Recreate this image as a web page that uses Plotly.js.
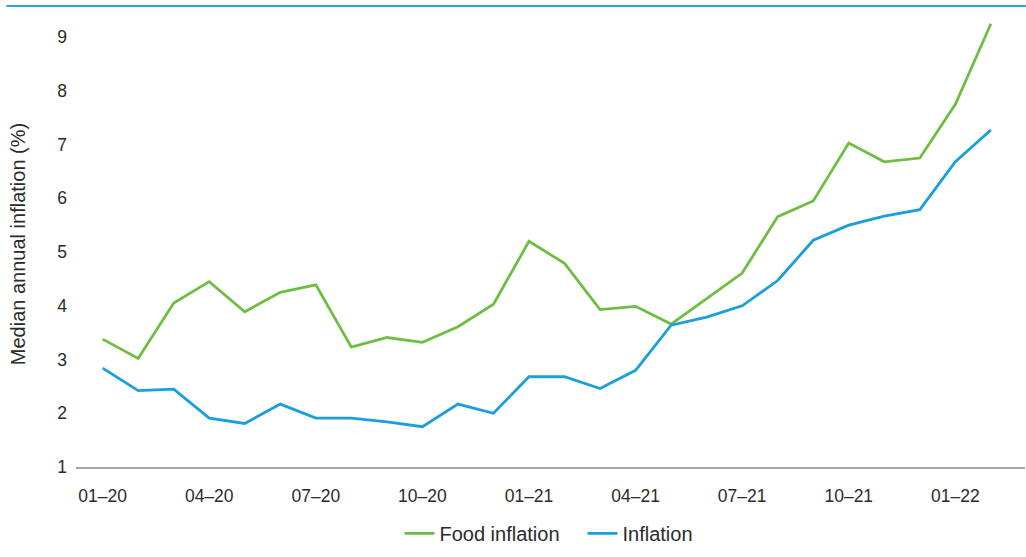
<!DOCTYPE html>
<html>
<head>
<meta charset="utf-8">
<script src="https://cdn.plot.ly/plotly-3.0.1.min.js"></script>
<style>
  html, body { margin: 0; padding: 0; background: #fff; }
  #chart { width: 1026px; height: 557px; }
</style>
</head>
<body>
<div id="chart"></div>
<script>
// Monthly periods, Jan 2020 to Feb 2022
const months = [
  "01–20", "02–20", "03–20", "04–20", "05–20", "06–20", "07–20", "08–20", "09–20",
  "10–20", "11–20", "12–20", "01–21", "02–21", "03–21", "04–21", "05–21", "06–21",
  "07–21", "08–21", "09–21", "10–21", "11–21", "12–21", "01–22", "02–22"
];

// Median annual food inflation (%)
const foodInflation = [
  3.38, 3.02, 4.05, 4.45, 3.89, 4.25, 4.39, 3.23, 3.41,
  3.32, 3.61, 4.03, 5.20, 4.79, 3.93, 3.99, 3.66, 4.14,
  4.61, 5.66, 5.95, 7.03, 6.68, 6.75, 7.75, 9.25
];

// Median annual headline inflation (%)
const inflation = [
  2.84, 2.42, 2.45, 1.91, 1.81, 2.17, 1.91, 1.91, 1.84,
  1.75, 2.17, 2.00, 2.68, 2.68, 2.46, 2.80, 3.64, 3.79,
  4.00, 4.47, 5.22, 5.50, 5.67, 5.79, 6.68, 7.27
];

// Quarterly tick labels
const tickLabels = ["01–20", "04–20", "07–20", "10–20", "01–21", "04–21", "07–21", "10–21", "01–22"];
const yTicks = [1, 2, 3, 4, 5, 6, 7, 8, 9];

const green = "#6fbe44";
const blue = "#1a9fdc";
const textColor = "#2b2b2b";
const fontFamily = "'Liberation Sans', Arial, Helvetica, sans-serif";

const traces = [
  {
    type: "scatter", mode: "lines", name: "Food inflation",
    x: months, y: foodInflation,
    line: { color: green, width: 2.8 },
    hoverinfo: "x+y+name"
  },
  {
    type: "scatter", mode: "lines", name: "Inflation",
    x: months, y: inflation,
    line: { color: blue, width: 2.8 },
    hoverinfo: "x+y+name"
  }
];

const layout = {
  width: 1026, height: 557,
  paper_bgcolor: "#ffffff", plot_bgcolor: "#ffffff",
  margin: { l: 75.7, r: 1, t: 21, b: 90, pad: 0 },
  font: { family: fontFamily, color: textColor, size: 17.5 },
  showlegend: true,
  legend: {
    orientation: "h",
    x: 0.5337, xanchor: "center", xref: "paper",
    y: -0.149, yanchor: "middle",
    font: { size: 20, color: textColor, family: fontFamily },
    bgcolor: "rgba(0,0,0,0)",
    itemwidth: 30,
    entrywidth: 138,
    entrywidthmode: "pixels",
    traceorder: "normal"
  },
  xaxis: {
    type: "category",
    range: [-0.75, 25.96],
    tickmode: "array",
    tickvals: tickLabels,
    ticktext: tickLabels,
    showgrid: false,
    zeroline: false,
    showline: true,
    linecolor: "#a6a6a6",
    linewidth: 2,
    ticks: "",
    ticklabelstandoff: 12,
    tickfont: { size: 17.5, color: textColor },
    fixedrange: true
  },
  yaxis: {
    range: [1, 9.3],
    tickmode: "array",
    tickvals: yTicks,
    showgrid: false,
    zeroline: false,
    showline: false,
    ticks: "",
    ticklabelstandoff: 8,
    tickfont: { size: 17.5, color: textColor },
    title: {
      text: "Median annual inflation (%)",
      font: { size: 20, color: textColor },
      standoff: 26
    },
    fixedrange: true
  },
  shapes: [
    {
      // thin accent rule across the top of the figure
      type: "line", xref: "paper", yref: "paper",
      x0: -0.0735, x1: 1.001, y0: 1.0336, y1: 1.0336,
      line: { color: "#23a6e2", width: 2 }
    }
  ]
};

Plotly.newPlot("chart", traces, layout, { displayModeBar: false, staticPlot: false });
</script>
</body>
</html>
